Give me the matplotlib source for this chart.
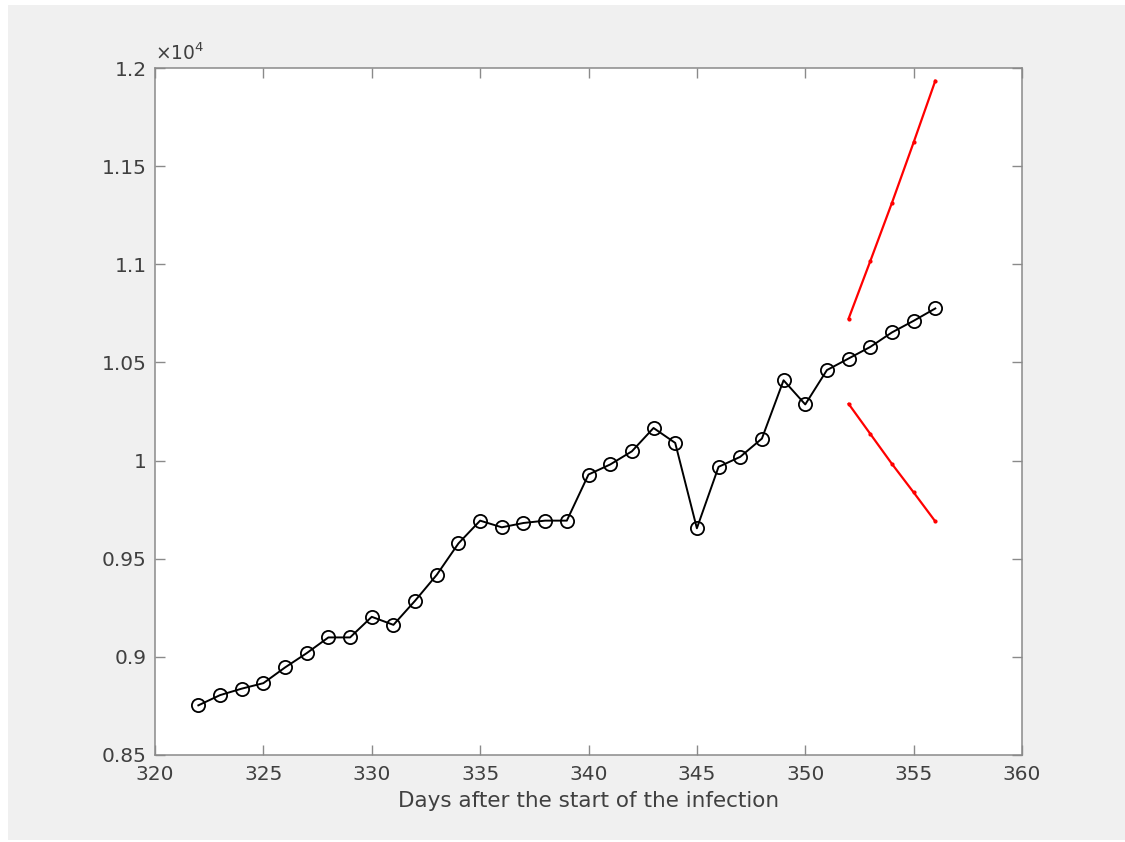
import numpy as np
import matplotlib.pyplot as plt
from matplotlib.patches import Rectangle
from matplotlib.ticker import FuncFormatter

# observed data
days = np.arange(322, 357)
cases = [8753, 8805, 8838, 8866, 8946, 9019, 9099, 9099, 9204, 9163,
         9286, 9418, 9578, 9694, 9660, 9682, 9694, 9694, 9929, 9980,
         10047, 10166, 10090, 9655, 9968, 10019, 10112, 10409, 10286, 10461,
         10520, 10579, 10653, 10712, 10775]

# forecast bounds
pred_days = np.arange(352, 357)
upper = [10723, 11016, 11313, 11621, 11935]
lower = [10289, 10136, 9983, 9838, 9690]

fig = plt.figure(figsize=(11.25, 8.42), dpi=100, facecolor='white')
fig.patches.append(Rectangle((8 / 1125, 2 / 842), 1 - 8 / 1125, 835 / 842,
                             transform=fig.transFigure, facecolor='#f0f0f0',
                             edgecolor='none', zorder=-10))

ax = fig.add_axes([155 / 1125, 1 - 755 / 842, 867 / 1125, 687 / 842])
ax.set_facecolor('white')

ax.plot(days, cases, color='black', lw=1.4, marker='o', ms=9.5,
        mfc='none', mec='black', mew=1.3)
ax.plot(pred_days, upper, color='red', lw=1.6, marker='.', ms=4)
ax.plot(pred_days, lower, color='red', lw=1.6, marker='.', ms=4)

ax.set_xlim(320, 360)
ax.set_ylim(8500, 12000)
ax.set_xticks(np.arange(320, 361, 5))
ax.set_yticks(np.arange(8500, 12001, 500))
ax.yaxis.set_major_formatter(FuncFormatter(lambda v, p: '%g' % (v / 1e4)))

for s in ax.spines.values():
    s.set_color('#8a8a8a')
    s.set_linewidth(1.1)
ax.tick_params(direction='in', length=7, width=1, color='#8a8a8a',
               labelcolor='#404040', labelsize=14.5, pad=6,
               top=True, right=True)
ax.tick_params(axis='x', pad=7)

ax.set_xlabel('Days after the start of the infection', fontsize=15.5,
              color='#404040', labelpad=5)
ax.text(0.0, 1.006, r'$\times10^{4}$', transform=ax.transAxes,
        fontsize=13.5, color='#404040', ha='left', va='bottom')

fig.savefig('out.png', dpi=100, facecolor=fig.get_facecolor())
